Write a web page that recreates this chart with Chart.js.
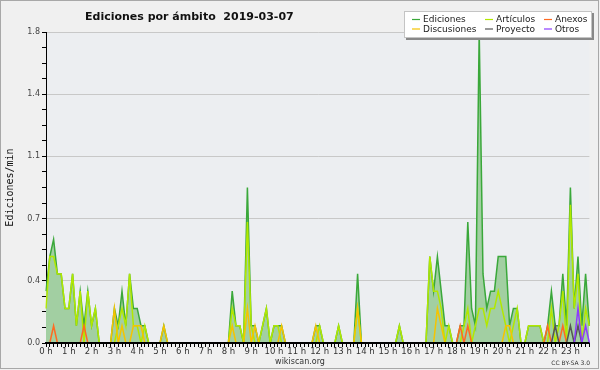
<!DOCTYPE html>
<html lang="es">
<head>
<meta charset="UTF-8">
<title>Ediciones por ámbito 2019-03-07</title>
<script src="https://cdn.jsdelivr.net/npm/chart.js"></script>
<style>
  body { margin: 0; background: #f0f0f0; }
  canvas { display: block; }
</style>
</head>
<body>
<canvas id="grafico" width="600" height="370"></canvas>
<script>
  // una fila = 2 horas (12 intervalos de 10 min), valores en ediciones/min
  const ediciones = [
    0.3, 0.5, 0.6, 0.4, 0.4, 0.2, 0.2, 0.4, 0.1, 0.3, 0.1, 0.3,
    0.1, 0.2, 0, 0, 0, 0, 0.2, 0.1, 0.3, 0.1, 0.4, 0.2,
    0.2, 0.1, 0.1, 0, 0, 0, 0, 0.1, 0, 0, 0, 0,
    0, 0, 0, 0, 0, 0, 0, 0, 0, 0, 0, 0,
    0, 0.3, 0.1, 0.1, 0, 0.9, 0.1, 0.1, 0, 0.1, 0.2, 0,
    0.1, 0.1, 0.1, 0, 0, 0, 0, 0, 0, 0, 0, 0.1,
    0.1, 0, 0, 0, 0, 0.1, 0, 0, 0, 0, 0.4, 0,
    0, 0, 0, 0, 0, 0, 0, 0, 0, 0.1, 0, 0,
    0, 0, 0, 0, 0, 0.5, 0.3, 0.5, 0.3, 0.1, 0.1, 0,
    0, 0.1, 0.1, 0.7, 0.2, 0.1, 1.8, 0.4, 0.2, 0.3, 0.3, 0.5,
    0.5, 0.5, 0.1, 0.2, 0.2, 0, 0, 0.1, 0.1, 0.1, 0.1, 0,
    0.1, 0.3, 0.1, 0.1, 0.4, 0.1, 0.9, 0.2, 0.5, 0.1, 0.4, 0.1
  ];
  const articulos = [
    0.2, 0.5, 0.5, 0.4, 0.4, 0.2, 0.2, 0.4, 0.1, 0.3, 0, 0.3,
    0.1, 0.2, 0, 0, 0, 0, 0, 0.1, 0.2, 0.1, 0.4, 0.1,
    0.1, 0, 0.1, 0, 0, 0, 0, 0, 0, 0, 0, 0,
    0, 0, 0, 0, 0, 0, 0, 0, 0, 0, 0, 0,
    0, 0.2, 0.1, 0.1, 0, 0.7, 0.1, 0, 0, 0.1, 0.2, 0,
    0.1, 0.1, 0, 0, 0, 0, 0, 0, 0, 0, 0, 0,
    0.1, 0, 0, 0, 0, 0.1, 0, 0, 0, 0, 0.2, 0,
    0, 0, 0, 0, 0, 0, 0, 0, 0, 0.1, 0, 0,
    0, 0, 0, 0, 0, 0.5, 0.3, 0.3, 0.2, 0, 0.1, 0,
    0, 0, 0.1, 0.2, 0, 0.1, 0.2, 0.2, 0.1, 0.2, 0.2, 0.3,
    0.2, 0.1, 0, 0.1, 0.2, 0, 0, 0.1, 0.1, 0.1, 0.1, 0,
    0, 0.2, 0, 0.1, 0.3, 0, 0.8, 0.2, 0.4, 0, 0.2, 0.1
  ];
  const anexos = [
    0, 0, 0.1, 0, 0, 0, 0, 0, 0, 0, 0.1, 0,
    0, 0, 0, 0, 0, 0, 0, 0, 0, 0, 0, 0,
    0, 0, 0, 0, 0, 0, 0, 0, 0, 0, 0, 0,
    0, 0, 0, 0, 0, 0, 0, 0, 0, 0, 0, 0,
    0, 0, 0, 0, 0, 0, 0, 0, 0, 0, 0, 0,
    0, 0, 0, 0, 0, 0, 0, 0, 0, 0, 0, 0,
    0, 0, 0, 0, 0, 0, 0, 0, 0, 0, 0, 0,
    0, 0, 0, 0, 0, 0, 0, 0, 0, 0, 0, 0,
    0, 0, 0, 0, 0, 0, 0, 0, 0, 0, 0, 0,
    0, 0.1, 0, 0.1, 0, 0, 0, 0, 0, 0, 0, 0,
    0, 0, 0, 0, 0, 0, 0, 0, 0, 0, 0, 0,
    0.1, 0, 0, 0, 0.1, 0, 0, 0, 0, 0, 0, 0
  ];
  const discusiones = [
    0, 0, 0, 0, 0, 0, 0, 0, 0, 0, 0, 0,
    0, 0, 0, 0, 0, 0, 0.2, 0, 0.1, 0, 0, 0.1,
    0.1, 0.1, 0, 0, 0, 0, 0, 0.1, 0, 0, 0, 0,
    0, 0, 0, 0, 0, 0, 0, 0, 0, 0, 0, 0,
    0, 0.1, 0, 0, 0, 0.2, 0, 0.1, 0, 0, 0, 0,
    0, 0, 0.1, 0, 0, 0, 0, 0, 0, 0, 0, 0.1,
    0, 0, 0, 0, 0, 0, 0, 0, 0, 0, 0.2, 0,
    0, 0, 0, 0, 0, 0, 0, 0, 0, 0, 0, 0,
    0, 0, 0, 0, 0, 0, 0, 0.2, 0.1, 0, 0, 0,
    0, 0, 0, 0, 0, 0, 0, 0, 0, 0, 0, 0,
    0, 0.1, 0.1, 0, 0, 0, 0, 0, 0, 0, 0, 0,
    0, 0, 0, 0, 0, 0, 0, 0, 0, 0, 0, 0
  ];
  const proyecto = [
    0, 0, 0, 0, 0, 0, 0, 0, 0, 0, 0, 0,
    0, 0, 0, 0, 0, 0, 0, 0, 0, 0, 0, 0,
    0, 0, 0, 0, 0, 0, 0, 0, 0, 0, 0, 0,
    0, 0, 0, 0, 0, 0, 0, 0, 0, 0, 0, 0,
    0, 0, 0, 0, 0, 0, 0, 0, 0, 0, 0, 0,
    0, 0, 0, 0, 0, 0, 0, 0, 0, 0, 0, 0,
    0, 0, 0, 0, 0, 0, 0, 0, 0, 0, 0, 0,
    0, 0, 0, 0, 0, 0, 0, 0, 0, 0, 0, 0,
    0, 0, 0, 0, 0, 0, 0, 0, 0, 0, 0, 0,
    0, 0, 0, 0, 0, 0, 0, 0, 0, 0, 0, 0,
    0, 0, 0, 0, 0, 0, 0, 0, 0, 0, 0, 0,
    0, 0, 0.1, 0, 0, 0, 0.1, 0, 0.1, 0, 0, 0
  ];
  const otros = [
    0, 0, 0, 0, 0, 0, 0, 0, 0, 0, 0, 0,
    0, 0, 0, 0, 0, 0, 0, 0, 0, 0, 0, 0,
    0, 0, 0, 0, 0, 0, 0, 0, 0, 0, 0, 0,
    0, 0, 0, 0, 0, 0, 0, 0, 0, 0, 0, 0,
    0, 0, 0, 0, 0, 0, 0, 0, 0, 0, 0, 0,
    0, 0, 0, 0, 0, 0, 0, 0, 0, 0, 0, 0,
    0, 0, 0, 0, 0, 0, 0, 0, 0, 0, 0, 0,
    0, 0, 0, 0, 0, 0, 0, 0, 0, 0, 0, 0,
    0, 0, 0, 0, 0, 0, 0, 0, 0, 0, 0, 0,
    0, 0, 0, 0, 0, 0, 0, 0, 0, 0, 0, 0,
    0, 0, 0, 0, 0, 0, 0, 0, 0, 0, 0, 0,
    0, 0, 0, 0, 0, 0, 0, 0, 0.2, 0, 0.1, 0
  ];

  const titulo = 'Ediciones por ámbito  2019-03-07';

  // 00:00, 00:10 ... 23:50
  const intervalos = [];
  for (let h = 0; h < 24; h++) {
    for (let m = 0; m < 60; m += 10) {
      intervalos.push(String(h).padStart(2, '0') + ':' + String(m).padStart(2, '0'));
    }
  }

  const FUENTE = '"DejaVu Sans", sans-serif';

  const linea = (label, data, color, order) => ({
    label, data, order,
    borderColor: color,
    backgroundColor: color,
    borderWidth: 1.5,
    pointRadius: 0,
    tension: 0,
    fill: false
  });

  // fondo, titulo, leyenda y textos al pie
  const decorado = {
    id: 'decorado',
    beforeDraw(chart) {
      const { ctx, chartArea: a, width, height } = chart;
      ctx.save();
      ctx.fillStyle = '#f0f0f0';
      ctx.fillRect(0, 0, width, height);
      ctx.fillStyle = '#eceef1';
      ctx.fillRect(a.left, a.top, a.right - a.left, a.bottom - a.top);
      ctx.restore();
    },
    afterDatasetsDraw(chart) {
      // el eje X tapa las lineas en cero
      const { ctx, chartArea: a } = chart;
      ctx.save();
      ctx.fillStyle = '#000';
      ctx.fillRect(a.left - 1, a.bottom - 1, a.right - a.left + 1, 2);
      ctx.restore();
    },
    afterDraw(chart) {
      const ctx = chart.ctx;
      ctx.save();
      ctx.fillStyle = '#111';
      ctx.font = 'bold 11px ' + FUENTE;
      ctx.textBaseline = 'alphabetic';
      ctx.fillText(titulo, 85, 20);

      // leyenda
      ctx.fillStyle = '#888';
      ctx.fillRect(406, 13, 188, 27);
      ctx.fillStyle = '#fff';
      ctx.fillRect(404, 11, 188, 27);
      ctx.strokeStyle = '#c4c4c4';
      ctx.lineWidth = 1;
      ctx.strokeRect(404.5, 11.5, 187, 26);
      const colX = [423, 496, 555];
      const filaY = [19.5, 29];
      ctx.font = '9px ' + FUENTE;
      ctx.textBaseline = 'middle';
      chart.data.datasets.forEach((ds, i) => {
        const x = colX[i % 3], y = filaY[Math.floor(i / 3)];
        ctx.strokeStyle = ds.borderColor;
        ctx.lineWidth = 1.2;
        ctx.beginPath();
        ctx.moveTo(x - 11, y);
        ctx.lineTo(x - 3, y);
        ctx.stroke();
        ctx.fillStyle = '#222';
        ctx.fillText(ds.label, x, y + 0.5);
      });

      ctx.textBaseline = 'alphabetic';
      ctx.fillStyle = '#333';
      ctx.font = '8px ' + FUENTE;
      ctx.textAlign = 'center';
      ctx.fillText('wikiscan.org', 300, 364);
      ctx.font = '6px ' + FUENTE;
      ctx.textAlign = 'right';
      ctx.fillText('CC BY-SA 3.0', 590, 365);

      ctx.strokeStyle = '#a8a8a8';
      ctx.lineWidth = 1;
      ctx.strokeRect(0.5, 0.5, 598, 368);
      ctx.restore();
    }
  };

  const ediSet = linea('Ediciones', ediciones, '#3aa83a', 6);
  ediSet.fill = 'origin';
  ediSet.backgroundColor = '#a2cfa2';

  new Chart(document.getElementById('grafico'), {
    type: 'line',
    data: {
      labels: intervalos,
      datasets: [
        ediSet,
        linea('Artículos', articulos, '#b2e800', 5),
        linea('Anexos', anexos, '#ff6a22', 3),
        linea('Discusiones', discusiones, '#f5c400', 4),
        linea('Proyecto', proyecto, '#555555', 2),
        linea('Otros', otros, '#8d3cff', 1)
      ]
    },
    options: {
      responsive: false,
      animation: false,
      devicePixelRatio: 1,
      layout: { padding: { left: 0, right: 10.6, top: 32, bottom: 0 } },
      plugins: {
        legend: { display: false },
        title: { display: false },
        tooltip: { enabled: false }
      },
      scales: {
        x: {
          type: 'category',
          offset: false,
          afterFit: (s) => { s.height = 27; },
          grid: {
            display: true,
            drawOnChartArea: false,
            drawTicks: true,
            tickLength: 4,
            tickColor: '#000'
          },
          border: { color: '#000', width: 1 },
          ticks: {
            autoSkip: false,
            maxRotation: 0,
            padding: 0,
            color: '#333',
            font: { family: FUENTE, size: 8.5 },
            callback: (v, i) => (i % 6 === 0 ? (i / 6) + ' h' : '')
          }
        },
        y: {
          min: 0,
          max: 1.8,
          afterFit: (s) => { s.width = 46; },
          grid: {
            color: (c) => (c.index % 4 === 0 && c.index > 0 ? '#c8c8c8' : 'rgba(0,0,0,0)'),
            tickColor: '#000',
            tickLength: 4,
            drawTicks: true
          },
          border: { color: '#000', width: 1 },
          ticks: {
            stepSize: 0.09,
            padding: 2,
            color: '#444',
            font: { family: FUENTE, size: 8 },
            callback: (v, i) => (i % 4 === 0 ? Number(v).toFixed(1) : '')
          },
          title: {
            display: true,
            text: 'Ediciones/min',
            color: '#111',
            font: { family: '"DejaVu Sans Mono", monospace', size: 10 },
            padding: { top: 4, bottom: 0 }
          }
        }
      }
    },
    plugins: [decorado]
  });
</script>
</body>
</html>
